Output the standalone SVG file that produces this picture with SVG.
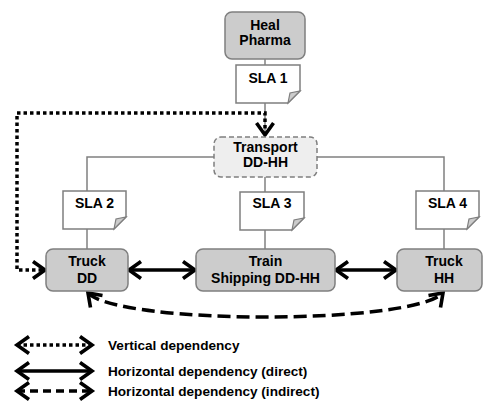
<svg xmlns="http://www.w3.org/2000/svg" width="484" height="405" viewBox="0 0 484 405">
<defs>
<style>
text{font-family:"Liberation Sans",Arial,sans-serif;font-weight:bold;font-size:14px;fill:#000;text-anchor:middle}
.lg{font-size:13.6px;text-anchor:start}
.box{fill:#cccccc;stroke:#7f7f7f;stroke-width:1.5}
.tr{fill:#eeeeee;stroke:#7f7f7f;stroke-width:1.5;stroke-dasharray:5,3}
.doc{fill:#ffffff;stroke:#7f7f7f;stroke-width:1.5}
.fold{fill:#cccccc;stroke:#7f7f7f;stroke-width:1.2}
.ln{fill:none;stroke:#808080;stroke-width:1.5}
.dot{fill:none;stroke:#000;stroke-width:3.5;stroke-dasharray:3.5,3}
.sol{fill:none;stroke:#000;stroke-width:3.5}
.dsh{fill:none;stroke:#000;stroke-width:3.5;stroke-dasharray:13,6}
.dshl{fill:none;stroke:#000;stroke-width:3.5;stroke-dasharray:8,5}
</style>
<marker id="ah" markerUnits="userSpaceOnUse" overflow="visible" orient="auto-start-reverse" refX="0" refY="0" markerWidth="20" markerHeight="20">
<path d="M-12,-8.5 L0,0 L-12,8.5" fill="none" stroke="#000" stroke-width="3.6" stroke-dasharray="none"/>
</marker>
</defs>

<g id="connectors">
<path class="ln" d="M265,59 V65"/>
<path class="ln" d="M265,103 V137"/>
<path class="ln" d="M214,157 H87 V191"/>
<path class="ln" d="M317,157 H444 V191"/>
<path class="ln" d="M265,177 V192"/>
<path class="ln" d="M87,229 V249"/>
<path class="ln" d="M265,230 V249"/>
<path class="ln" d="M444,229 V249"/>
<path class="dot" d="M265,135 V113 H17 V270 H45" marker-start="url(#ah)" marker-end="url(#ah)"/>
<path class="sol" d="M129,270 H195" marker-start="url(#ah)" marker-end="url(#ah)"/>
<path class="sol" d="M336,270 H396" marker-start="url(#ah)" marker-end="url(#ah)"/>
<path class="dsh" d="M88,293 C120,325 411,325 443,293" marker-start="url(#ah)" marker-end="url(#ah)"/>
</g>

<g id="heal-pharma">
<rect class="box" x="225" y="12" width="80" height="47" rx="7"/>
<text x="265" y="30">Heal</text>
<text x="265" y="45">Pharma</text>
</g>

<g id="sla1">
<path class="doc" d="M236,65 H300 V91 L288,103 H236 Z"/>
<path class="fold" d="M300,91 L288,103 L290,93 Z"/>
<text x="268" y="83">SLA 1</text>
</g>

<g id="transport">
<rect class="tr" x="214" y="137" width="103" height="40" rx="7"/>
<text x="265.5" y="152">Transport</text>
<text x="265.5" y="167">DD-HH</text>
</g>

<g id="sla2">
<path class="doc" d="M63,191 H126 V217 L114,229 H63 Z"/>
<path class="fold" d="M126,217 L114,229 L116,219 Z"/>
<text x="94.5" y="208">SLA 2</text>
</g>

<g id="sla3">
<path class="doc" d="M240,192 H304 V218 L292,230 H240 Z"/>
<path class="fold" d="M304,218 L292,230 L294,220 Z"/>
<text x="272" y="208">SLA 3</text>
</g>

<g id="sla4">
<path class="doc" d="M416,191 H479 V217 L467,229 H416 Z"/>
<path class="fold" d="M479,217 L467,229 L469,219 Z"/>
<text x="447.5" y="208">SLA 4</text>
</g>

<g id="truck-dd">
<rect class="box" x="46" y="249" width="82" height="42" rx="7"/>
<text x="87" y="266">Truck</text>
<text x="87" y="283">DD</text>
</g>

<g id="train">
<rect class="box" x="196" y="249" width="139" height="42" rx="7"/>
<text x="265.5" y="266">Train</text>
<text x="265.5" y="283">Shipping DD-HH</text>
</g>

<g id="truck-hh">
<rect class="box" x="397" y="249" width="85" height="42" rx="7"/>
<text x="444" y="266">Truck</text>
<text x="444" y="283">HH</text>
</g>

<g id="legend">
<path class="dot" d="M17,345 H92" marker-start="url(#ah)" marker-end="url(#ah)"/>
<path class="sol" d="M17,371 H92" marker-start="url(#ah)" marker-end="url(#ah)"/>
<path class="dshl" d="M17,391 H92" marker-start="url(#ah)" marker-end="url(#ah)"/>
<text class="lg" x="108" y="350">Vertical dependency</text>
<text class="lg" x="108" y="376">Horizontal dependency (direct)</text>
<text class="lg" x="108" y="396">Horizontal dependency (indirect)</text>
</g>
</svg>
